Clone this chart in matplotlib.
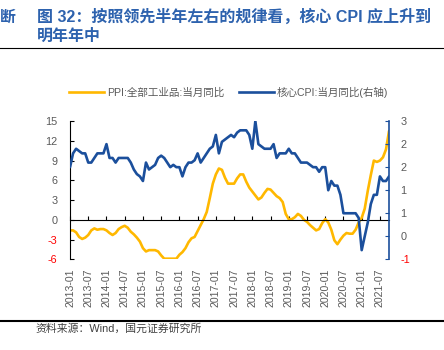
import numpy as np
import pandas as pd
import matplotlib
matplotlib.use("Agg")
import matplotlib.pyplot as plt
from matplotlib.lines import Line2D

plt.rcParams['font.family'] = ['Liberation Sans', 'Noto Sans CJK SC']

# 月度数据 2013-01 ~ 2021-10
months = pd.date_range("2013-01-01", "2021-10-01", freq="MS")

ppi = [
    -1.6, -1.6, -1.9, -2.6, -2.9, -2.7, -2.3, -1.6, -1.3, -1.5, -1.4, -1.4,   # 2013
    -1.6, -2.0, -2.3, -2.0, -1.4, -1.1, -0.9, -1.2, -1.8, -2.2, -2.7, -3.3,   # 2014
    -4.3, -4.8, -4.6, -4.6, -4.6, -4.8, -5.4, -5.9, -5.9, -5.9, -5.9, -5.9,   # 2015
    -5.3, -4.9, -4.3, -3.4, -2.8, -2.6, -1.7, -0.8, 0.1, 1.2, 3.3, 5.5,       # 2016
    6.9, 7.8, 7.6, 6.4, 5.5, 5.5, 5.5, 6.3, 6.9, 6.9, 5.8, 4.9,               # 2017
    4.3, 3.7, 3.1, 3.4, 4.1, 4.7, 4.6, 4.1, 3.6, 3.3, 2.7, 0.9,               # 2018
    0.1, 0.1, 0.4, 0.9, 0.6, 0.0, -0.3, -0.8, -1.2, -1.6, -1.4, -0.5,         # 2019
    0.1, -0.4, -1.5, -3.1, -3.7, -3.0, -2.4, -2.0, -2.1, -2.1, -1.5, -0.4,    # 2020
    0.3, 1.7, 4.4, 6.8, 9.0, 8.8, 9.0, 9.5, 10.7, 13.5,                       # 2021
]

core_cpi = [
    1.5, 1.8, 1.9, 1.85, 1.8, 1.8, 1.6, 1.6, 1.7, 1.8, 1.8, 1.8,              # 2013
    2.0, 1.7, 1.7, 1.6, 1.7, 1.7, 1.7, 1.7, 1.6, 1.45, 1.35, 1.3,             # 2014
    1.2, 1.6, 1.45, 1.5, 1.55, 1.7, 1.75, 1.7, 1.6, 1.5, 1.55, 1.5,           # 2015
    1.5, 1.3, 1.5, 1.6, 1.6, 1.65, 1.8, 1.6, 1.7, 1.8, 1.9, 1.95,             # 2016
    2.2, 1.8, 2.05, 2.1, 2.15, 2.2, 2.15, 2.25, 2.3, 2.3, 2.3, 2.2,           # 2017
    1.9, 2.5, 2.0, 1.95, 1.9, 1.9, 1.9, 2.0, 1.7, 1.8, 1.8, 1.8,              # 2018
    1.9, 1.8, 1.8, 1.7, 1.6, 1.6, 1.6, 1.55, 1.5, 1.5, 1.4, 1.5,              # 2019
    1.5, 1.0, 1.2, 1.1, 1.1, 0.9, 0.5, 0.5, 0.5, 0.5, 0.5, 0.4,               # 2020
    -0.3, 0.0, 0.3, 0.7, 0.9, 0.9, 1.3, 1.2, 1.2, 1.3,                        # 2021
]

tick_idx = list(range(0, len(months), 6))
tick_labels = [months[i].strftime("%Y-%m") for i in tick_idx]
left_ticks = [-6, -3, 0, 3, 6, 9, 12, 15]
right_ticks = [-0.5, 0, 0.5, 1, 1.5, 2, 2.5]
right_labels = ["-1", "0", "1", "1", "2", "2", "3"]

orange = "#FFB800"
blue = "#1B4F9C"
grey = "#595959"
title_blue = "#2D62AE"

x = np.arange(len(months))

fig = plt.figure(figsize=(4.44, 3.5), dpi=100)
ax = fig.add_axes([0.1577, 0.259, 0.7185, 0.395])
ax2 = ax.twinx()

ax.plot(x, ppi, color=orange, lw=1.9, solid_capstyle="round")
ax2.plot(x, core_cpi, color=blue, lw=1.9, solid_capstyle="round")

ax.set_xlim(x[0], x[-1])
ax.set_ylim(-6, 15)
ax2.set_ylim(-0.5, 2.5)

# 坐标轴样式
for s in ["top", "right"]:
    ax.spines[s].set_visible(False)
for s in ["top", "left", "bottom"]:
    ax2.spines[s].set_visible(False)
ax.spines["bottom"].set_position(("data", 0))
ax.spines["left"].set_color("black")
ax2.spines["right"].set_color(blue)
ax2.spines["right"].set_linewidth(1.2)

ax.set_xticks(tick_idx)
ax.tick_params(axis="x", direction="in", length=3, labelbottom=False)

sec = ax.secondary_xaxis("bottom")
sec.spines["bottom"].set_visible(False)
sec.set_xticks(tick_idx, tick_labels)
sec.tick_params(length=0, pad=6.5, labelsize=7.6, labelcolor=grey, rotation=90)

ax.set_yticks(left_ticks, [str(v) for v in left_ticks])
ax.tick_params(axis="y", direction="in", length=3, pad=9, labelsize=7.8, labelcolor=grey)
for lbl, v in zip(ax.get_yticklabels(), left_ticks):
    if v < 0:
        lbl.set_color("red")

ax2.set_yticks(right_ticks, right_labels)
ax2.tick_params(axis="y", direction="in", length=3, pad=8, labelsize=7.8,
                labelcolor=grey, color=blue)
for lbl, v in zip(ax2.get_yticklabels(), right_ticks):
    if v < 0:
        lbl.set_color("red")

# 图例
handles = [Line2D([], [], color=orange, lw=1.9), Line2D([], [], color=blue, lw=1.9)]
leg = fig.legend(handles, ["PPI:全部工业品:当月同比", "核心CPI:当月同比(右轴)"],
                 loc="center", bbox_to_anchor=(0.515, 0.737), ncol=2, frameon=False,
                 fontsize=7.6, handlelength=3.3, handletextpad=0.3, columnspacing=1.4)
for t in leg.get_texts():
    t.set_color(grey)

# 标题与来源
fig.text(0.0, 1 - 17 / 350, "断", fontsize=11.4, weight="bold", color=title_blue, va="center")
fig.text(37 / 444, 1 - 17 / 350, "图 32：按照领先半年左右的规律看，核心 CPI 应上升到",
         fontsize=11.5, weight="bold", color=title_blue, va="center")
fig.text(37 / 444, 1 - 36 / 350, "明年年中", fontsize=11.5, weight="bold",
         color=title_blue, va="center")
fig.add_artist(Line2D([0, 1], [1 - 48 / 350] * 2, color="black", lw=0.8))
fig.add_artist(Line2D([0, 1], [1 - 321 / 350] * 2, color="black", lw=1.5))
fig.text(35 / 444, 1 - 329 / 350, "资料来源：Wind，国元证券研究所", fontsize=7.8,
         color="#404040", va="center")

fig.savefig("out.png", dpi=100)
